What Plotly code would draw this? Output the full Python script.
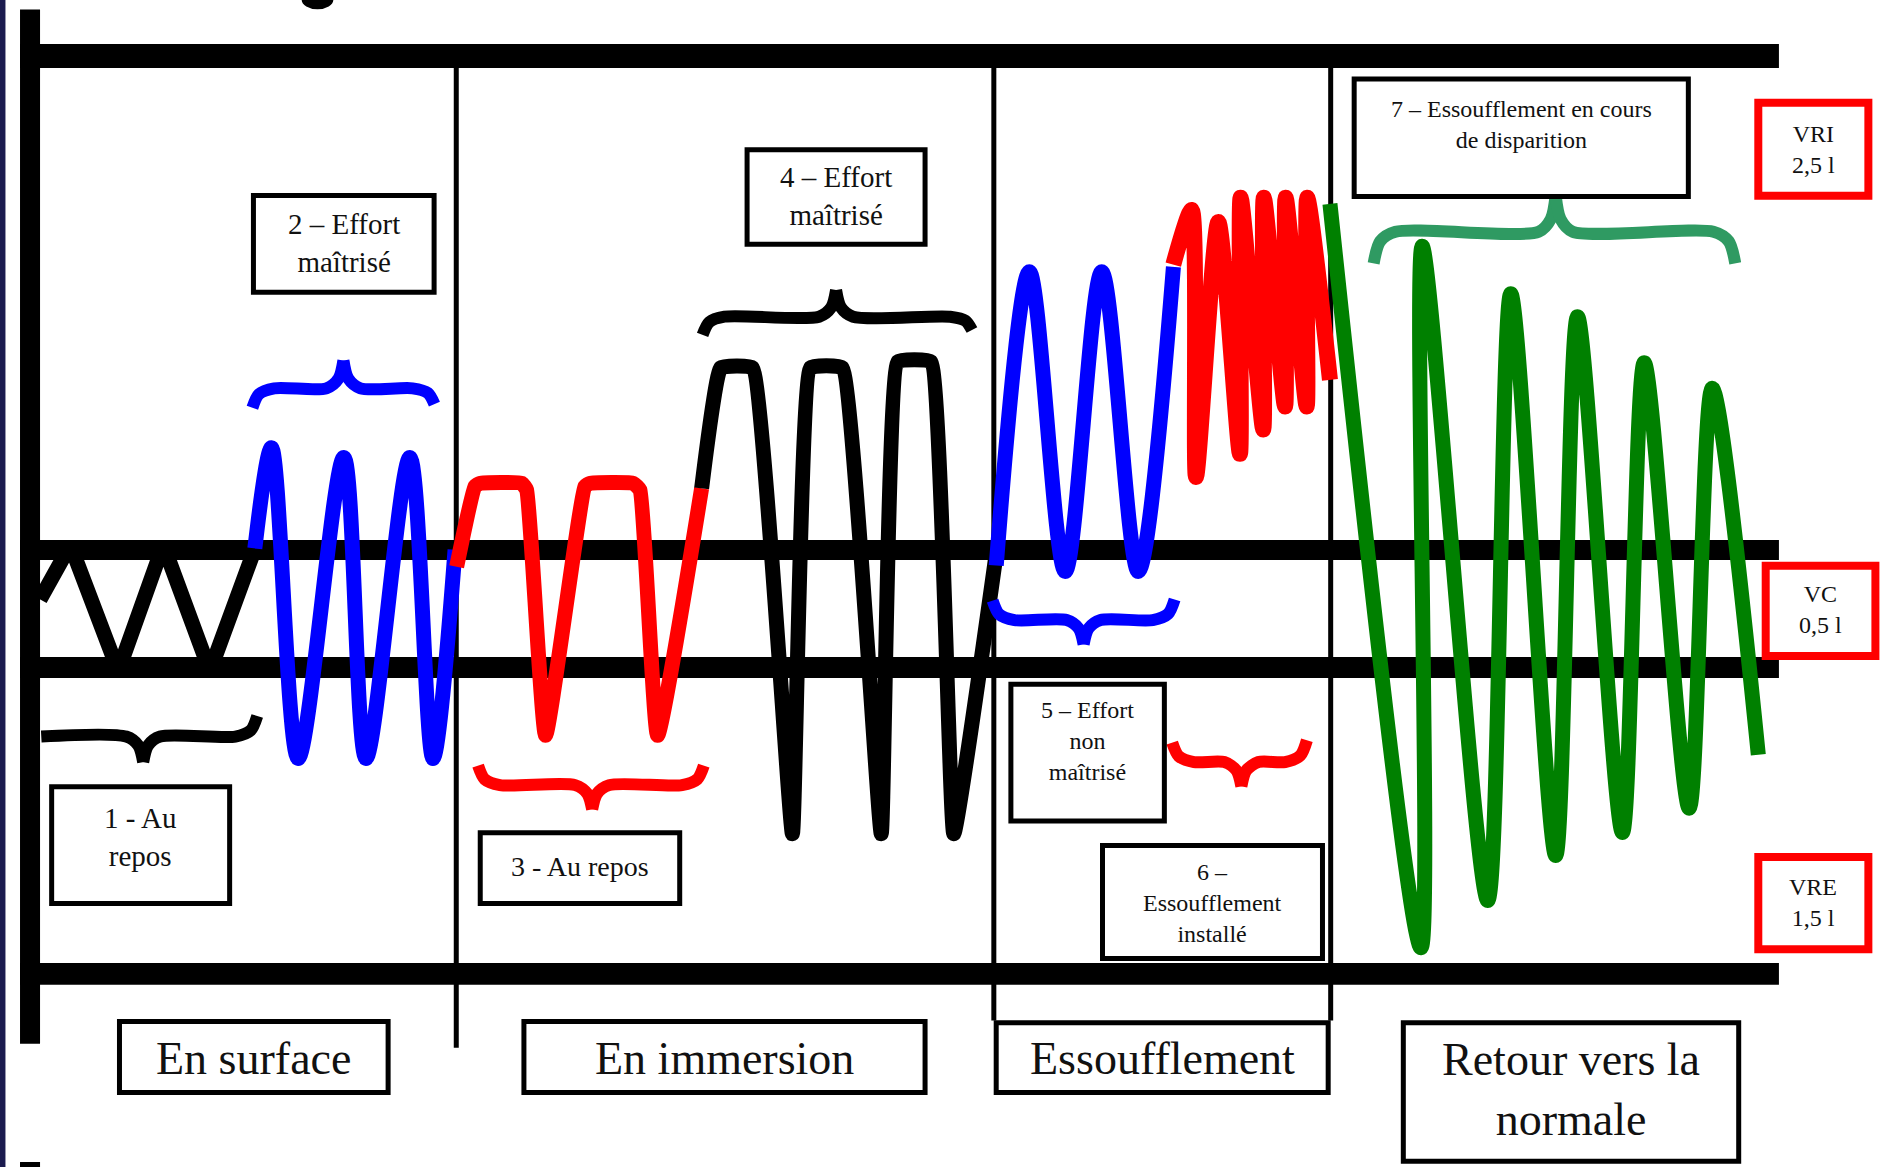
import plotly.graph_objects as go

# ---------------- canvas (diagram units; y grows downward) ----------------
W_PX, H_PX = 1893, 1167
XMAX = 1560.0
S = W_PX / XMAX            # screen px per diagram unit
YMAX = H_PX / S

# ---------------- waveform data (extrema) ----------------
# 1 - Au repos (en surface), black zigzag
rest_surface_x = [33, 58, 97.5, 134.6, 173, 209]
rest_surface_y = [494, 449, 553, 449, 553, 455]
# 2 - Effort maîtrisé (surface), blue
effort_surface_x = [210, 223.7, 245.7, 283.3, 301.6, 337.7, 356.8, 375]
effort_surface_y = [452, 369, 625, 377, 625, 377, 625, 453]
# 3 - Au repos (immersion), red
rest_immersion_x = [376.3, 391.4, 395.6, 429.9, 434, 449.6, 482, 486.2, 521.9, 527.4, 541.9, 578.2]
rest_immersion_y = [467, 401, 398.3, 398.3, 403.8, 606, 401, 398.3, 398.3, 403.8, 606, 402.4]
# 4 - Effort maîtrisé (immersion), black
effort_immersion_x = [578.2, 594, 620, 653, 668, 694, 726.2, 740, 767, 786, 821]
effort_immersion_y = [402.4, 303, 303, 687, 303, 303, 687, 298, 298, 687, 456]
# 5 - Effort non maîtrisé, blue
effort_uncontrolled_x = [821, 848.3, 877.8, 907.9, 938, 967]
effort_uncontrolled_y = [466, 224, 471, 224, 471, 220]
# 6 - Essoufflement installé, red
breathless_x = [966.9, 982, 985.6, 1004, 1021.8, 1022.4, 1041, 1041.5, 1059, 1059.5, 1076.8, 1077.3, 1096]
breathless_y = [218, 173, 393, 183, 374, 163, 354, 163, 335, 163, 335, 163, 313]
# 7 - Essoufflement en cours de disparition, green
recovery_x = [1096, 1171, 1172, 1226, 1245, 1282, 1300, 1337, 1355, 1392, 1411, 1449]
recovery_y = [168, 781, 203, 742, 242, 705, 261, 686, 299, 666, 320, 622]

# ---------------- texts ----------------
phase_labels = ["En surface", "En immersion", "Essoufflement", "Retour vers la<br>normale"]
step_labels = ["1 - Au<br>repos", "2 – Effort<br>maîtrisé", "3 - Au repos", "4 – Effort<br>maîtrisé",
               "5 – Effort<br>non<br>maîtrisé", "6 –<br>Essoufflement<br>installé",
               "7 – Essoufflement en cours<br>de disparition"]
volume_labels = ["VRI<br>2,5 l", "VC<br>0,5 l", "VRE<br>1,5 l"]

BLUE, RED, GREEN, BLACK = "#0000ff", "#ff0000", "#008000", "#000000"
BRACE_GREEN = "#2f9a62"
FONT = "Liberation Serif, Times New Roman, serif"

fig = go.Figure()

def wave(x, y, color, shape="spline", smoothing=1.0, width=15):
    fig.add_trace(go.Scatter(x=x, y=y, mode="lines", hoverinfo="skip",
                             line=dict(color=color, width=width, shape=shape,
                                       smoothing=smoothing if shape == "spline" else None)))

# green first (red phase 6 sits over its start)
wave(recovery_x, recovery_y, GREEN, smoothing=0.8)
wave(rest_surface_x, rest_surface_y, BLACK, shape="linear")
wave(effort_surface_x, effort_surface_y, BLUE, smoothing=0.9)
wave(rest_immersion_x, rest_immersion_y, RED, smoothing=0.4)
wave(effort_immersion_x, effort_immersion_y, BLACK, smoothing=0.3)
wave(effort_uncontrolled_x, effort_uncontrolled_y, BLUE, smoothing=0.9)
wave(breathless_x, breathless_y, RED, smoothing=0.7, width=16)

# ---------------- braces ----------------
BRACES = [
    dict(x0=34, x1=212, ye0=607, ye1=590, yb=607, xt=118, yt=628, color=BLACK),
    dict(x0=208, x1=358, ye0=336, ye1=333, yb=320, xt=283, yt=297, color=BLUE),
    dict(x0=394, x1=580, ye0=631, ye1=631, yb=647, xt=488, yt=667, color=RED),
    dict(x0=579, x1=801, ye0=276, ye1=272, yb=261, xt=689, yt=239, color=BLACK),
    dict(x0=818, x1=968, ye0=495, ye1=494, yb=511, xt=893, yt=531, color=BLUE),
    dict(x0=966, x1=1077, ye0=612, ye1=610, yb=628, xt=1023, yt=648, color=RED),
    dict(x0=1132, x1=1430, ye0=217, ye1=217, yb=191, xt=1282, yt=161, color=BRACE_GREEN),
]
for b in BRACES:
    c = 18
    for side in (0, 1):
        xe = b["x0"] if side == 0 else b["x1"]
        ye = b["ye0"] if side == 0 else b["ye1"]
        sg = 1 if side == 0 else -1
        if ye == b["yb"]:
            xs = [xe, b["xt"] - sg * 14, b["xt"] - sg * 4, b["xt"]]
            ys = [ye, b["yb"], b["yb"] + (b["yt"] - b["yb"]) * 0.35, b["yt"]]
        else:
            xs = [xe, xe + sg * c * 0.3, xe + sg * c, b["xt"] - sg * 14, b["xt"] - sg * 4, b["xt"]]
            ys = [ye, b["yb"] + (ye - b["yb"]) * 0.3, b["yb"], b["yb"],
                  b["yb"] + (b["yt"] - b["yb"]) * 0.35, b["yt"]]
        fig.add_trace(go.Scatter(x=xs, y=ys, mode="lines", hoverinfo="skip",
                                 line=dict(color=b["color"], width=12, shape="spline", smoothing=0.8)))

shapes = []
def rect(x0, x1, y0, y1, color, layer="below"):
    shapes.append(dict(type="rect", xref="x", yref="y", x0=x0, x1=x1, y0=y0, y1=y1,
                       fillcolor=color, line=dict(width=0), layer=layer))

# frame bars
rect(0, 4.5, 0, YMAX, "#1b1b4f")
rect(16.5, 33, 7.9, 860.2, BLACK)
rect(16.5, 33, 957.6, YMAX + 5, BLACK)
for (y0, y1) in [(36.3, 56.1), (445, 461.5), (541.4, 558.7), (793.7, 811.6)]:
    rect(16.5, 1466, y0, y1, BLACK)
shapes.append(dict(type="circle", xref="x", yref="y", x0=248.6, x1=274.7, y0=-8, y1=7.7,
                   fillcolor=BLACK, line=dict(width=0), layer="below"))
# separators
for (xv, y1) in [(376, 863.5), (819, 841), (1096.6, 841)]:
    shapes.append(dict(type="line", xref="x", yref="y", x0=xv, x1=xv, y0=56, y1=y1,
                       line=dict(color=BLACK, width=5), layer="below"))

annotations = []
def box(x0, x1, y0, y1, text, size, ytext=None, border=BLACK, bw=5):
    ins = bw / 2 / S
    shapes.append(dict(type="rect", xref="x", yref="y", x0=x0 + ins, x1=x1 - ins,
                       y0=y0 + ins, y1=y1 - ins, fillcolor="white",
                       line=dict(color=border, width=bw), layer="above"))
    annotations.append(dict(x=(x0 + x1) / 2, y=ytext if ytext is not None else (y0 + y1) / 2,
                            xref="x", yref="y", text=text, showarrow=False,
                            xanchor="center", yanchor="middle",
                            font=dict(family=FONT, size=size, color="#111111")))

# step boxes
box(40.5, 191.3, 646.2, 746.7, step_labels[0], 29, 690)
box(206.8, 359.8, 159, 243, step_labels[1], 29, 200)
box(393.7, 562.2, 684.1, 746.7, step_labels[2], 28, 714)
box(613.6, 764.4, 121.4, 203.4, step_labels[3], 29, 161.6)
box(831, 961.6, 561.8, 678.6, step_labels[4], 24, 610.5)
box(906.5, 1091.9, 694.8, 792, step_labels[5], 24, 744)
box(1113.9, 1393.4, 63.1, 164, step_labels[6], 24, 102.5)
# volume boxes
box(1445.7, 1543, 81.3, 164.6, volume_labels[0], 24, 123, border=RED, bw=8)
box(1451.8, 1548.8, 462.9, 544, volume_labels[1], 24, 502, border=RED, bw=8)
box(1445.7, 1543, 702.9, 785.6, volume_labels[2], 24, 743.5, border=RED, bw=8)
# phase boxes
box(96.4, 321.9, 839.8, 902.4, phase_labels[0], 46, 872)
box(429.7, 764.4, 839.8, 902.4, phase_labels[1], 46, 872)
box(818.9, 1096.6, 840.7, 902.4, phase_labels[2], 46, 872)
box(1154.4, 1434.9, 840.7, 959, phase_labels[3], 46, 898)

fig.update_layout(
    width=W_PX, height=H_PX, margin=dict(l=0, r=0, t=0, b=0, pad=0),
    paper_bgcolor="white", plot_bgcolor="white", showlegend=False,
    xaxis=dict(range=[0, XMAX], visible=False, fixedrange=True),
    yaxis=dict(range=[YMAX, 0], visible=False, fixedrange=True),
    shapes=shapes, annotations=annotations,
)

fig.write_html("out.html", config={"displayModeBar": False},
               post_script="document.body.style.margin='0';")
